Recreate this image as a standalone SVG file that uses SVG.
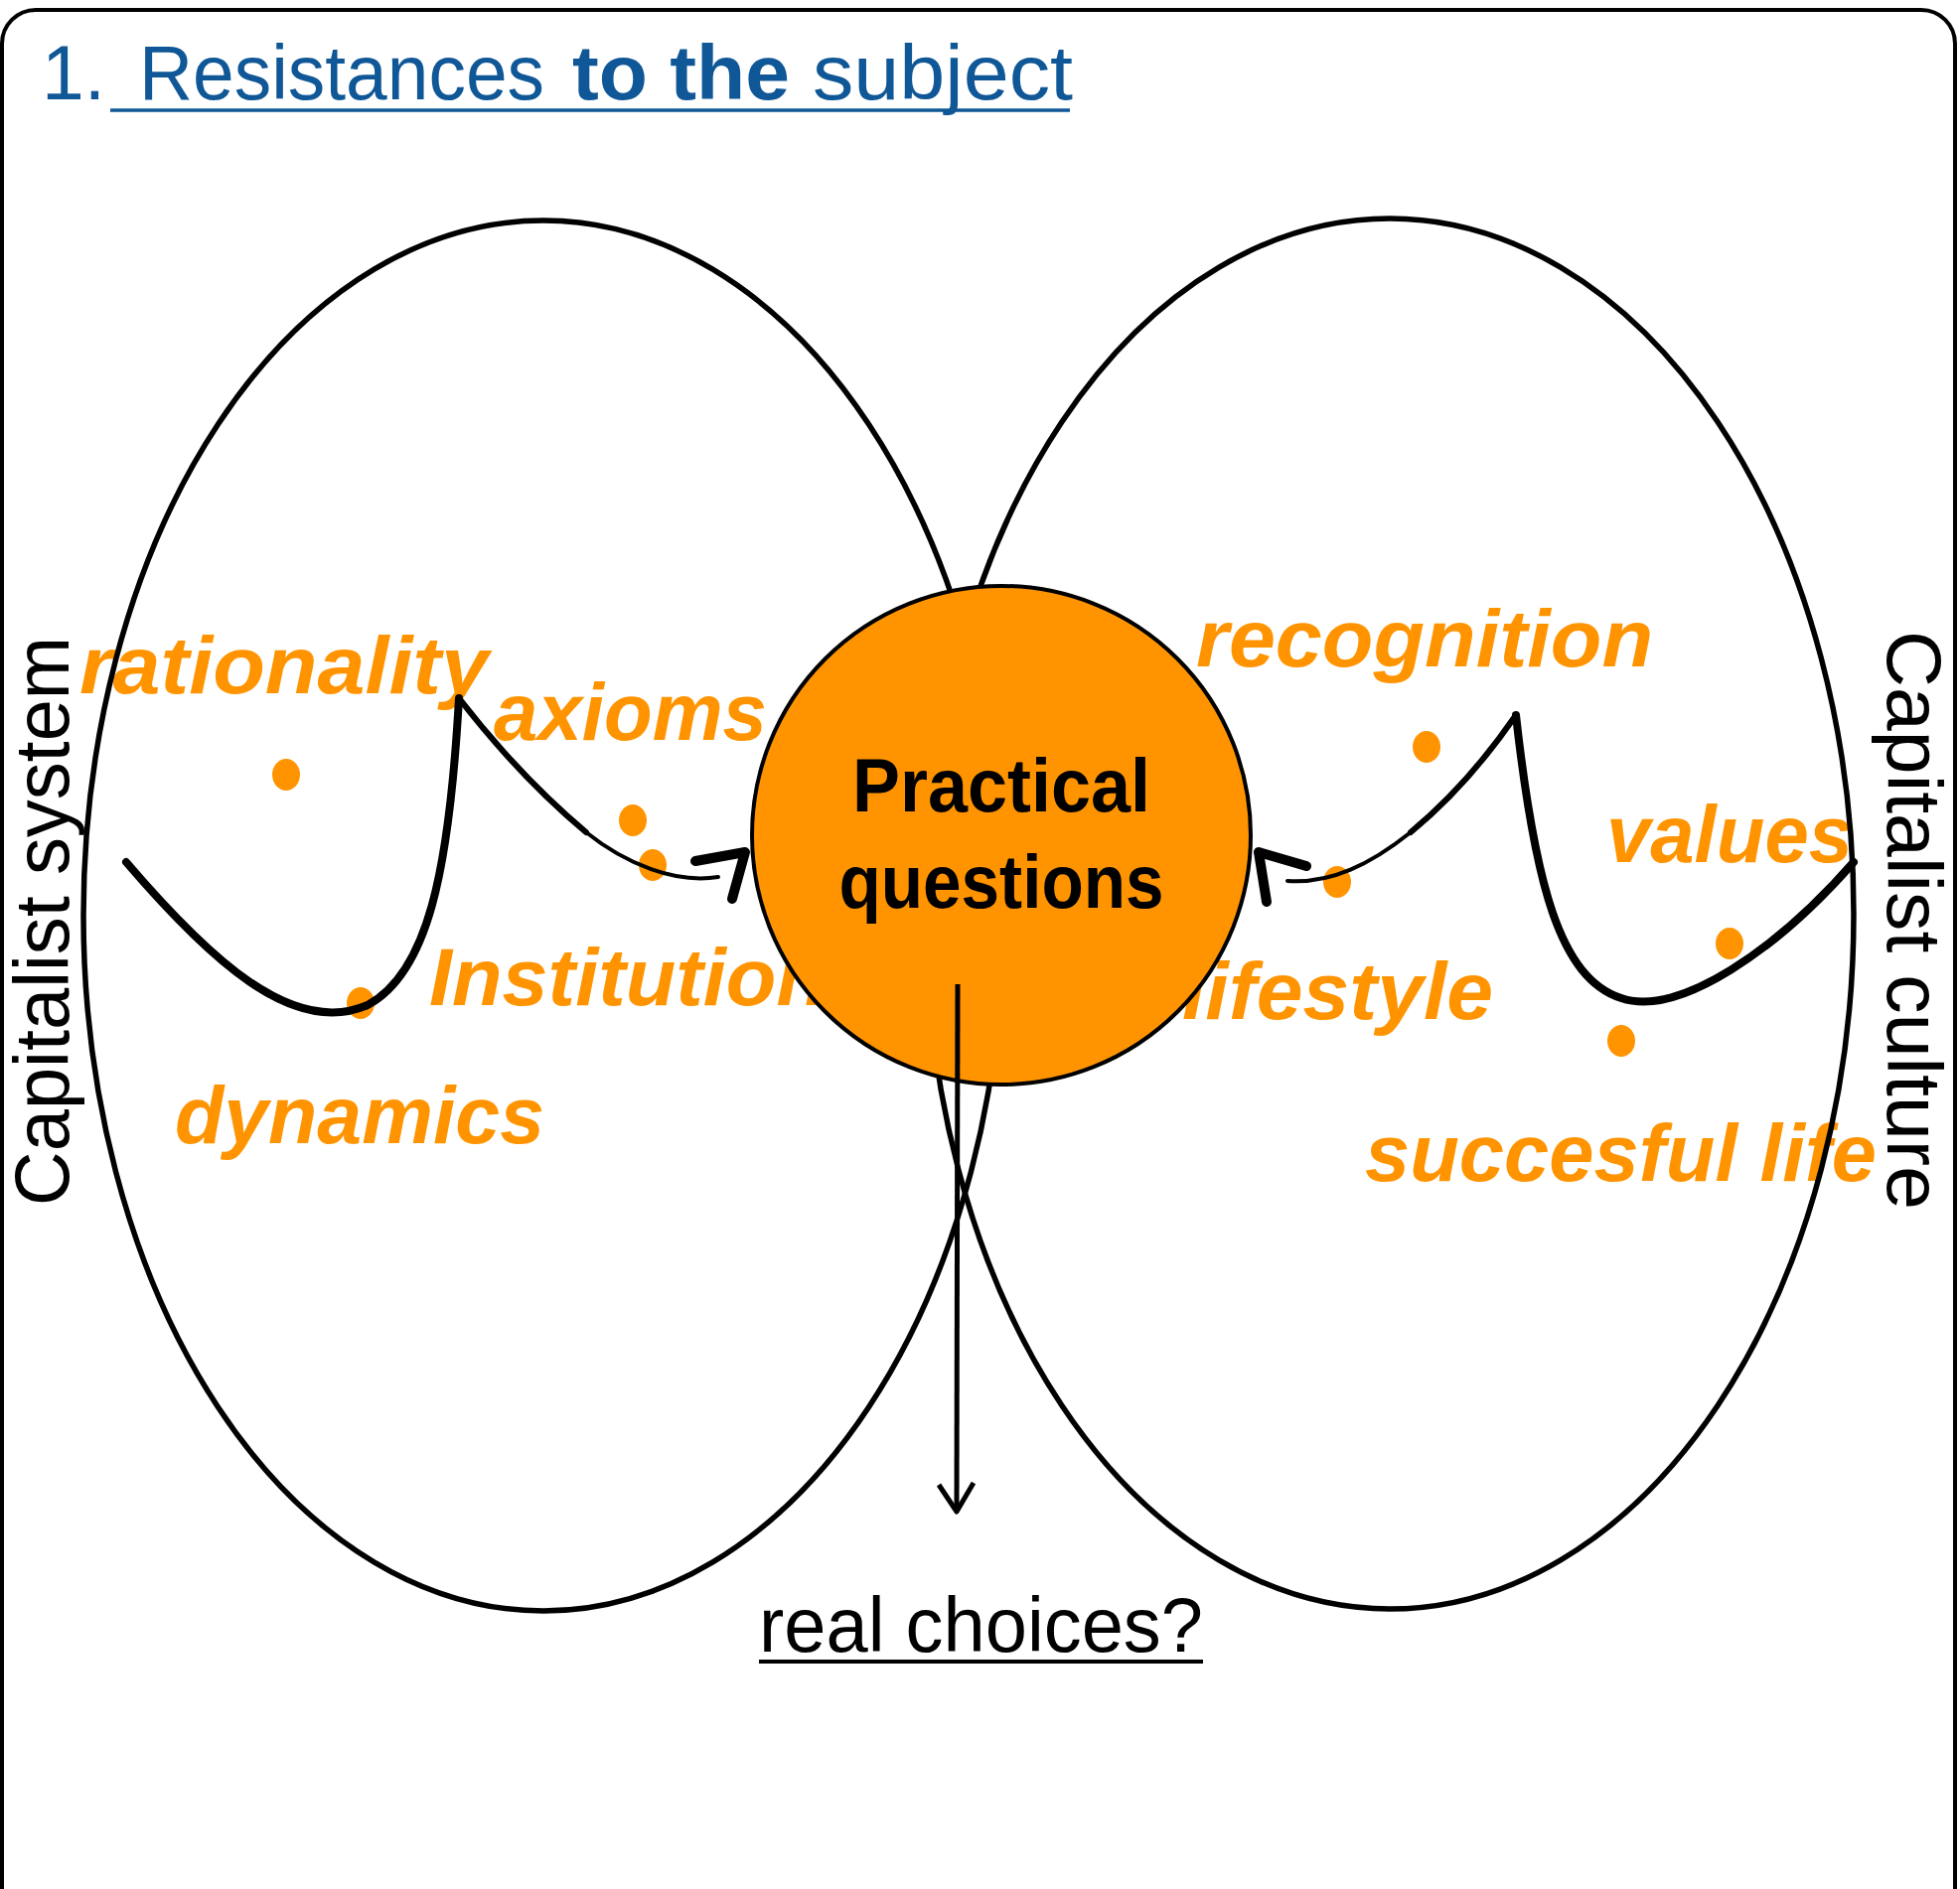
<svg xmlns="http://www.w3.org/2000/svg" width="1973" height="1902" viewBox="0 0 1973 1902">
<defs>
<style>
.frame{fill:none;stroke:#000;stroke-width:4}
.title{font-family:"Liberation Sans",Arial,sans-serif;font-size:77px;fill:#0f5796}
.side{font-family:"Liberation Sans",Arial,sans-serif;font-size:78px;fill:#000}
.lbl{font-family:"Liberation Sans",Arial,sans-serif;font-size:82px;font-weight:bold;font-style:italic;fill:#ff9400}
.dot{fill:#ff9400}
.ell{fill:none;stroke:#000;stroke-width:5.5}
.curve{fill:none;stroke:#000;stroke-linecap:round;stroke-linejoin:round}
.center{fill:#ff9400;stroke:#000;stroke-width:4}
.ctext{font-family:"Liberation Sans",Arial,sans-serif;font-size:76px;font-weight:bold;fill:#000;text-anchor:middle}
.bottom{font-family:"Liberation Sans",Arial,sans-serif;font-size:78px;fill:#000}
</style>
</defs>
<rect class="frame" x="2" y="10" width="1966" height="1960" rx="34"/>
<g id="title">
<text class="title" x="42" y="100" textLength="64" lengthAdjust="spacingAndGlyphs">1.</text>
<text class="title" x="140" y="100" textLength="408" lengthAdjust="spacingAndGlyphs">Resistances</text>
<text class="title" x="576" y="100" textLength="219" lengthAdjust="spacingAndGlyphs" font-weight="bold">to the</text>
<text class="title" x="818" y="100" textLength="262" lengthAdjust="spacingAndGlyphs">subject</text>
<line x1="111" y1="111" x2="1077" y2="111" stroke="#0f5796" stroke-width="3.5"/>
</g>
<g id="labels">
<text class="lbl" x="80" y="698" textLength="412" lengthAdjust="spacingAndGlyphs">rationality</text>
<text class="lbl" x="497" y="745" textLength="275" lengthAdjust="spacingAndGlyphs">axioms</text>
<text class="lbl" x="432" y="1012" textLength="400" lengthAdjust="spacingAndGlyphs">Institution</text>
<text class="lbl" x="176" y="1151" textLength="372" lengthAdjust="spacingAndGlyphs">dynamics</text>
<text class="lbl" x="1204" y="671" textLength="460" lengthAdjust="spacingAndGlyphs">recognition</text>
<text class="lbl" x="1617" y="868" textLength="248" lengthAdjust="spacingAndGlyphs">values</text>
<text class="lbl" x="1190" y="1026" textLength="313" lengthAdjust="spacingAndGlyphs">lifestyle</text>
<text class="lbl" x="1374" y="1189" textLength="515" lengthAdjust="spacingAndGlyphs">succesful life</text>
</g>
<g id="dots">
<ellipse class="dot" cx="288" cy="780" rx="14" ry="16"/>
<ellipse class="dot" cx="637" cy="826" rx="14" ry="16"/>
<ellipse class="dot" cx="657" cy="871" rx="14" ry="16"/>
<ellipse class="dot" cx="363" cy="1010" rx="14" ry="16"/>
<ellipse class="dot" cx="1436" cy="752" rx="14" ry="16"/>
<ellipse class="dot" cx="1346" cy="888" rx="14" ry="16"/>
<ellipse class="dot" cx="1741" cy="950" rx="14" ry="16"/>
<ellipse class="dot" cx="1632" cy="1048" rx="14" ry="16"/>
</g>
<g id="capitalist-system">
<ellipse class="ell" cx="547" cy="922" rx="463" ry="700"/>
<text class="side" transform="translate(69,1214) rotate(-90)" textLength="573" lengthAdjust="spacingAndGlyphs">Capitalist system</text>
</g>
<g id="capitalist-culture">
<ellipse class="ell" cx="1399" cy="920" rx="467" ry="700"/>
<text class="side" transform="translate(1900,635) rotate(90)" textLength="583" lengthAdjust="spacingAndGlyphs">Capitalist culture</text>
</g>
<g id="connectors">
<path class="curve" stroke-width="8" d="M127,868 C210,965 295,1045 370,1012 C430,980 452,880 462,703"/>
<path class="curve" stroke-width="6" d="M462,703 C500,752 540,796 590,838"/>
<path class="curve" stroke-width="4" d="M590,838 C630,870 680,890 723,883"/>
<polyline class="curve" stroke-width="10" stroke-linecap="butt" points="700,867 750,858 737,905"/>
<path class="curve" stroke-width="8" d="M1866,868 C1790,955 1690,1025 1632,1005 C1570,985 1545,890 1526,720"/>
<path class="curve" stroke-width="6" d="M1526,720 C1495,765 1460,805 1420,838"/>
<path class="curve" stroke-width="4" d="M1420,838 C1380,870 1340,890 1296,887"/>
<polyline class="curve" stroke-width="10" stroke-linecap="butt" points="1315,872 1267,858 1275,908"/>
</g>
<g id="practical-questions">
<circle class="center" cx="1008" cy="841" r="251"/>
<text class="ctext" x="1008" y="817" textLength="300" lengthAdjust="spacingAndGlyphs">Practical</text>
<text class="ctext" x="1008" y="914" textLength="327" lengthAdjust="spacingAndGlyphs">questions</text>
</g>
<g id="choice-arrow">
<line x1="964" y1="991" x2="963" y2="1521" stroke="#000" stroke-width="5"/>
<polyline points="945,1495 963,1522 980,1493" fill="none" stroke="#000" stroke-width="5" stroke-linejoin="round"/>
</g>
<g id="real-choices">
<text class="bottom" x="764" y="1663" textLength="447" lengthAdjust="spacingAndGlyphs">real choices?</text>
<line x1="764" y1="1673" x2="1211" y2="1673" stroke="#000" stroke-width="4"/>
</g>
</svg>
